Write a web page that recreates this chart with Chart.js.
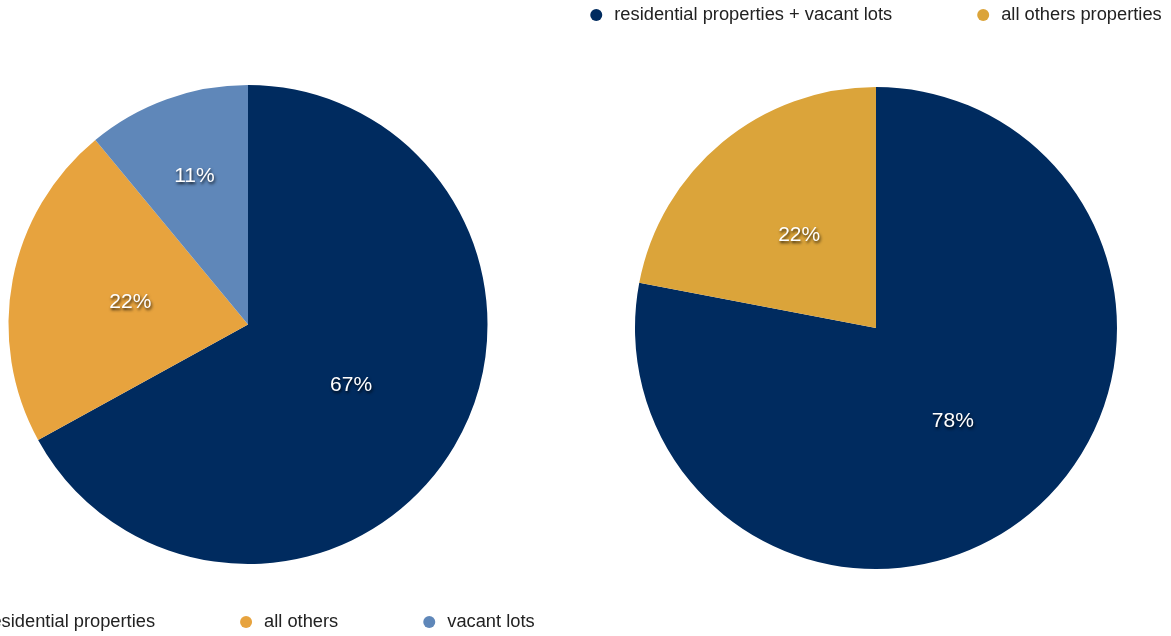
<!DOCTYPE html>
<html>
<head>
<meta charset="utf-8">
<script src="https://cdn.jsdelivr.net/npm/chart.js@4/dist/chart.umd.min.js"></script>
<style>
  html, body { margin: 0; padding: 0; background: #fff; overflow: hidden; }
  #wrap { position: relative; width: 1171px; height: 636px; overflow: hidden; }
  .box { position: absolute; top: 0; height: 636px; }
  #leftBox { left: -52px; width: 600px; }
  #rightBox { left: 581px; width: 590px; }
</style>
</head>
<body>
<div id="wrap">
  <div class="box" id="leftBox"><canvas id="leftChart" width="600" height="636"></canvas></div>
  <div class="box" id="rightBox"><canvas id="rightChart" width="590" height="636"></canvas></div>
</div>
<script>
// left pie
const leftLabels = ["residential properties", "all others", "vacant lots"];
const leftValues = [67, 22, 11];
const leftColors = ["#002B5F", "#E7A33E", "#5F87B9"];

// right pie
const rightLabels = ["residential properties + vacant lots", "all others properties"];
const rightValues = [78, 22];
const rightColors = ["#002B5F", "#DBA43A"];

// percent text inside each slice, small slices get pushed outward
const sliceLabels = {
  id: "sliceLabels",
  afterDatasetsDraw(chart) {
    const ctx = chart.ctx;
    const meta = chart.getDatasetMeta(0);
    const data = chart.data.datasets[0].data;
    ctx.save();
    ctx.font = "21px 'Liberation Sans', Arial, sans-serif";
    ctx.fillStyle = "#fff";
    ctx.textAlign = "center";
    ctx.textBaseline = "middle";
    ctx.shadowColor = "rgba(0,0,0,0.8)";
    ctx.shadowOffsetX = 1;
    ctx.shadowOffsetY = 2;
    ctx.shadowBlur = 3;
    meta.data.forEach((arc, i) => {
      const p = arc.getProps(["x", "y", "startAngle", "endAngle", "outerRadius"]);
      const mid = (p.startAngle + p.endAngle) / 2;
      const r = p.outerRadius * (data[i] < 15 ? 0.66 : 0.5);
      ctx.fillText(data[i] + "%", p.x + Math.cos(mid) * r, p.y + Math.sin(mid) * r);
    });
    ctx.restore();
  },
};

// legend row with wide gaps, centred on the canvas
const rowLegend = {
  id: "rowLegend",
  afterDraw(chart, args, opts) {
    const ctx = chart.ctx;
    const labels = chart.data.labels;
    const colors = chart.data.datasets[0].backgroundColor;
    const gap = 91;
    ctx.save();
    ctx.font = "18.3px 'Liberation Sans', Arial, sans-serif";
    ctx.textBaseline = "middle";
    const widths = labels.map((l) => ctx.measureText(l).width);
    let total = 0;
    widths.forEach((w, i) => {
      total += 6 + 18 + w;
      if (i < widths.length - 1) total += gap - 6;
    });
    let x = chart.width / 2 - total / 2;
    labels.forEach((l, i) => {
      const cx = x + 6;
      ctx.fillStyle = colors[i];
      ctx.beginPath();
      ctx.arc(cx, opts.y, 6, 0, Math.PI * 2);
      ctx.fill();
      ctx.fillStyle = "#222";
      ctx.fillText(l, cx + 18, opts.y);
      x = cx + 18 + widths[i] + gap - 6;
    });
    ctx.restore();
  },
};

function makePie(id, labels, values, colors, pad, legendY) {
  return new Chart(document.getElementById(id), {
    type: "pie",
    data: {
      labels: labels,
      datasets: [
        {
          data: values,
          backgroundColor: colors,
          borderWidth: 0,
        },
      ],
    },
    options: {
      responsive: false,
      animation: false,
      layout: { padding: pad },
      plugins: {
        legend: { display: false },
        tooltip: { enabled: false },
        rowLegend: { y: legendY },
      },
    },
    plugins: [sliceLabels, rowLegend],
  });
}

makePie("leftChart", leftLabels, leftValues, leftColors, { top: 85, bottom: 72, left: 0, right: 0 }, 622);
makePie("rightChart", rightLabels, rightValues, rightColors, { top: 87, bottom: 67, left: 0, right: 0 }, 15);
</script>
</body>
</html>
